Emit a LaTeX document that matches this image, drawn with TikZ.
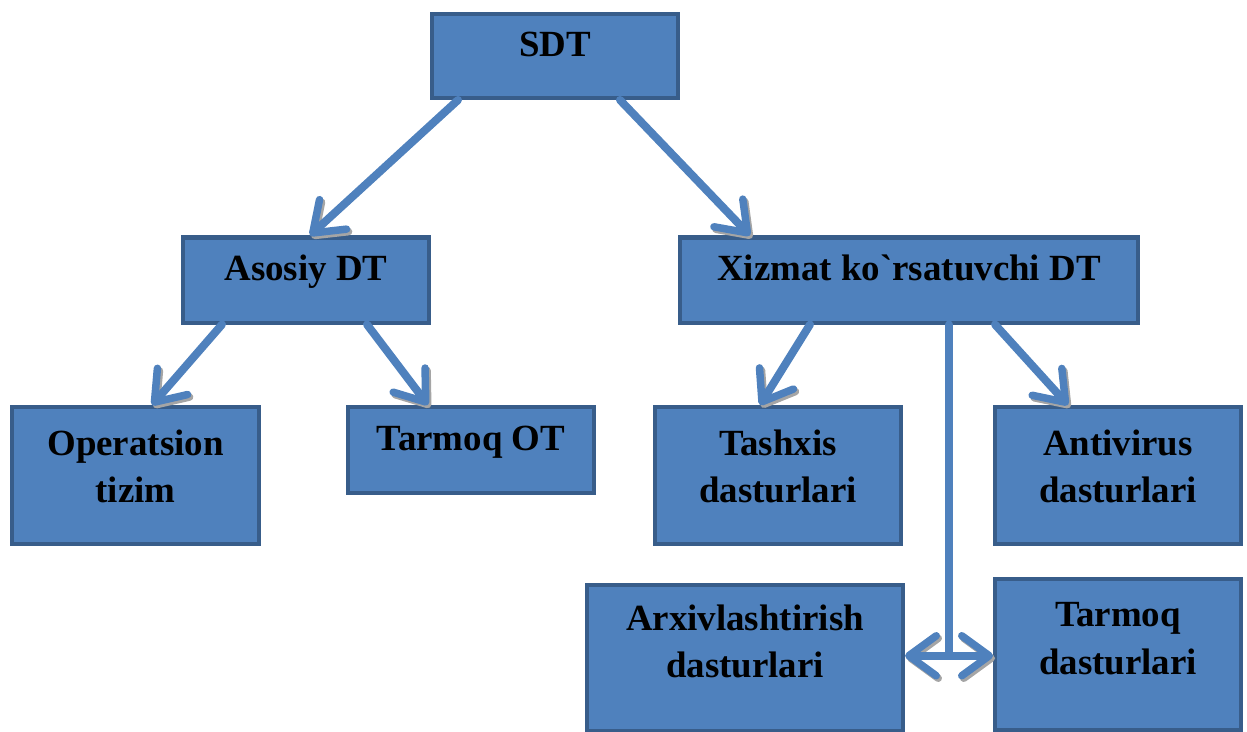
\documentclass[tikz,border=0pt]{standalone}
\usepackage{fontspec}
\setmainfont{Liberation Serif}
\usepackage{tikz}
\usetikzlibrary{arrows.meta, calc}
\definecolor{boxfill}{HTML}{4F81BD}
\definecolor{boxline}{HTML}{385D8A}
\definecolor{shade}{HTML}{A5A5A5}
\tikzset{blue box/.style={draw=boxline, fill=boxfill, line width=0.08cm,
    font=\fontsize{21}{27}\selectfont\bfseries, align=center,
    text height=14pt, text depth=13pt, inner sep=0pt},
  two lines/.style={text height=41pt, text depth=10pt},
  two lines low/.style={text height=41pt, text depth=18pt},
  conn/.style={draw=boxfill, line width=0.16cm, line cap=round,
    preaction={draw=shade, transform canvas={shift={(0.04,-0.05)}}}},
  barb/.tip={Straight Barb[length=0.55cm, width=0.8cm, line width=0.15cm, round]},
  tip/.style={-barb},
}

\begin{document}
\begin{tikzpicture}
                    \useasboundingbox (0,0) rectangle (24.94,-14.64);
                    %Top level
                    \node[blue box, minimum width=4.92cm, minimum height=1.68cm] (sdt) at (11.10,-1.12) {SDT};
                    \node[blue box, minimum width=4.92cm, minimum height=1.70cm] (asosiy) at (6.12,-5.60) {Asosiy DT};
                    \node[blue box, minimum width=9.16cm, minimum height=1.70cm] (xizmat) at (18.18,-5.60) {Xizmat ko\textasciigrave rsatuvchi DT};
                    %Children of Asosiy DT
                    \node[blue box, two lines, minimum width=4.94cm, minimum height=2.74cm] (opt) at (2.71,-9.51) {Operatsion\\tizim};
                    \node[blue box, minimum width=4.92cm, minimum height=1.72cm] (tarmoqot) at (9.42,-9.00) {Tarmoq OT};
                    %Children of Xizmat ko`rsatuvchi DT
                    \node[blue box, two lines, minimum width=4.92cm, minimum height=2.74cm] (tashxis) at (15.56,-9.51) {Tashxis\\dasturlari};
                    \node[blue box, two lines, minimum width=4.92cm, minimum height=2.74cm] (antivirus) at (22.36,-9.51) {Antivirus\\dasturlari};
                    \node[blue box, two lines low, minimum width=6.32cm, minimum height=2.92cm] (arxiv) at (14.90,-13.15) {Arxivlashtirish\\dasturlari};
                    \node[blue box, two lines low, minimum width=4.92cm, minimum height=3.02cm] (tarmoqd) at (22.36,-13.08) {Tarmoq\\dasturlari};
                    %Arrows between levels
                    \draw[conn, tip] ($(sdt.south west)+(0.56,0)$) -- ($(asosiy.north west)+(2.58,0)$);
                    \draw[conn, tip] ($(sdt.south west)+(3.80,0)$) -- ($(xizmat.north west)+(1.44,0)$);
                    \draw[conn, tip] ($(asosiy.south west)+(0.82,0)$) -- ($(opt.north west)+(2.84,0)$);
                    \draw[conn, tip] ($(asosiy.south west)+(3.72,0)$) -- ($(tarmoqot.north west)+(1.64,0)$);
                    \draw[conn, tip] ($(xizmat.south west)+(2.64,0)$) -- ($(tashxis.north west)+(2.14,0)$);
                    \draw[conn, tip] ($(xizmat.south west)+(6.34,0)$) -- ($(antivirus.north west)+(1.50,0)$);
                    %Stem with double arrow at the bottom
                    \coordinate (tee) at ($(arxiv.east)!0.5!(tarmoqd.west)$);
                    \draw[conn] (xizmat.south -| tee) -- (tee);
                    \draw[conn, barb-barb] (tee -| arxiv.east) -- (tee -| tarmoqd.west);
                \end{tikzpicture}
\end{document}
